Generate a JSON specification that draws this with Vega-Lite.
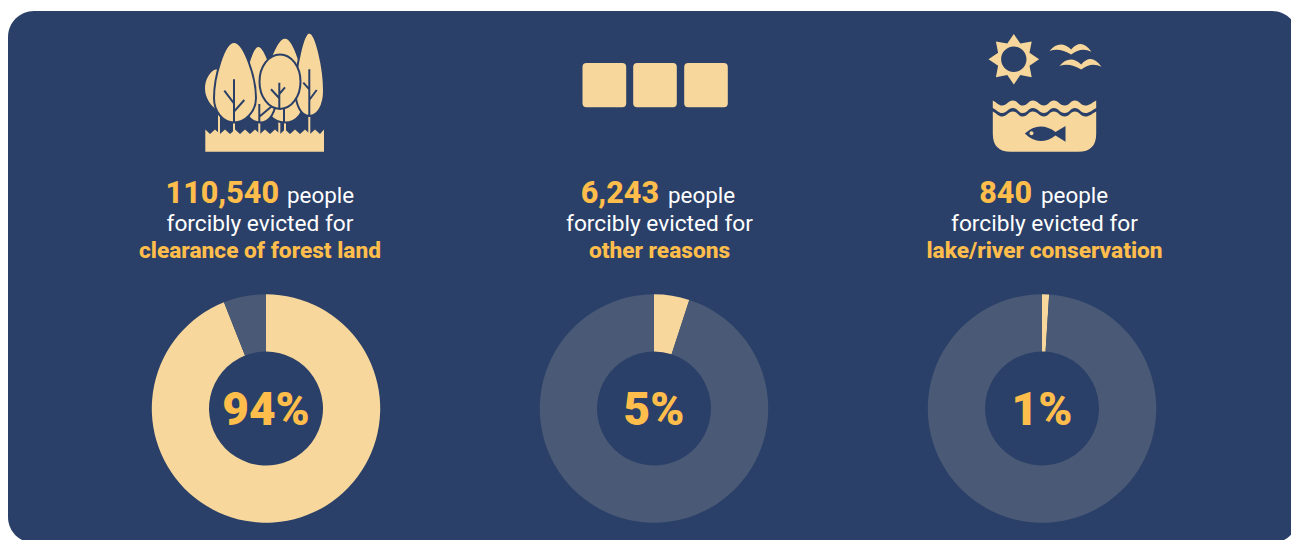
{
  "$schema": "https://vega.github.io/schema/vega-lite/v6.json",
  "width": 1290,
  "height": 532,
  "autosize": "none",
  "padding": {"left": 8, "top": 11, "right": 0, "bottom": 0},
  "background": "#ffffff",
  "view": {"fill": "#2B4068", "stroke": null, "cornerRadius": 26},
  "datasets": {
    "shares": [
      {"cause": "forest", "segment": "share", "value": 0.94},
      {"cause": "forest", "segment": "rest", "value": 0.06},
      {"cause": "other", "segment": "share", "value": 0.05},
      {"cause": "other", "segment": "rest", "value": 0.95},
      {"cause": "lake", "segment": "share", "value": 0.01},
      {"cause": "lake", "segment": "rest", "value": 0.99}
    ],
    "captions": [
      {"cause": "forest", "section": "caption", "count": "110,540", "unit": "people", "lead": "forcibly evicted for", "reason": "clearance of forest land"},
      {"cause": "other", "section": "caption", "count": "6,243", "unit": "people", "lead": "forcibly evicted for", "reason": "other reasons"},
      {"cause": "lake", "section": "caption", "count": "840", "unit": "people", "lead": "forcibly evicted for", "reason": "lake/river conservation"}
    ],
    "icons": [
      {"cause": "forest", "section": "icon", "part": "stems"},
      {"cause": "forest", "section": "icon", "part": "ground"},
      {"cause": "forest", "section": "icon", "part": "tree-back-left"},
      {"cause": "forest", "section": "icon", "part": "tree-back-right"},
      {"cause": "forest", "section": "icon", "part": "tree-middle"},
      {"cause": "forest", "section": "icon", "part": "tree-left"},
      {"cause": "forest", "section": "icon", "part": "tree-right"},
      {"cause": "forest", "section": "icon", "part": "tree-round"},
      {"cause": "other", "section": "icon", "part": "squares"},
      {"cause": "lake", "section": "icon", "part": "sun"},
      {"cause": "lake", "section": "icon", "part": "birds"},
      {"cause": "lake", "section": "icon", "part": "wave"},
      {"cause": "lake", "section": "icon", "part": "water"}
    ]
  },
  "encoding": {
    "x": {
      "field": "cause",
      "type": "nominal",
      "axis": null,
      "scale": {"type": "point", "domain": ["forest", "other", "lake"], "range": [258, 1034], "padding": 0}
    },
    "y": {
      "field": "section",
      "type": "nominal",
      "axis": null,
      "scale": {"type": "point", "domain": ["icon", "caption", "donut"], "range": [81, 397.5], "padding": 0}
    }
  },
  "layer": [
    {
      "data": {"name": "icons"},
      "mark": {"type": "point", "filled": true, "opacity": 1, "size": 4, "strokeWidth": 2},
      "encoding": {
        "shape": {
          "field": "part",
          "type": "nominal",
          "legend": null,
          "scale": {
            "domain": ["stems", "ground", "tree-back-left", "tree-back-right", "tree-middle", "tree-left", "tree-right", "tree-round", "squares", "sun", "birds", "wave", "water"],
            "range": [
              "M-48 20H-46V42H-48Z M-33 25H-31V42H-33Z M-7.7 25H-5.7V42H-7.7Z M12.3 10H14.3V42H12.3Z M18 10H20V42H18Z M42.3 20H44.3V42H42.3Z",
              "M-60.7 37.5L-56 42L-51 37.5L-46 42L-41 37.5L-36 42L-31 37.5L-26 42L-21 37.5L-16 42L-11 37.5L-6 42L-1 37.5L4 42L9 37.5L14 42L19 37.5L24 42L29 37.5L34 42L39 37.5L44 42L49 37.5L54 42L58 37.5L58 59.7L-60.7 59.7Z",
              "M-49.3 -23.7C-56 -23 -62 -13 -62 -3.7C-62 6 -56 15 -49.3 18.7C-42 15 -39 6 -39 -3.7C-39 -13 -42 -23 -49.3 -23.7Z",
              "M19 -54.5C10 -54 -3 -20 -3 4C-3 20 7 30.5 19 30.5C31 30.5 39 20 39 4C39 -20 28 -54 19 -54.5Z M18 14L18 30.5",
              "M-7.7 -46C-14 -46 -23 -15 -23 6C-23 20 -16 30.5 -6 30.5C4 30.5 10 20 10 6C10 -15 -1 -46 -7.7 -46Z M-6.7 12L-6.7 30.5 M7.3 13L-6.7 24.7",
              "M-32 -50C-42 -50 -52 -15 -52 6C-52 20 -43 30.5 -32 30.5C-21 30.5 -10 20 -10 6C-10 -15 -22 -50 -32 -50Z M-32 -12.7L-32 30.5 M-41.7 -1.3L-32 11.3 M-21.7 8L-32 19.7",
              "M43.3 -59.5C37 -59 29.5 -25 29.5 -1C29.5 13 35 24 43.3 24C52 24 58 13 58 -1C58 -25 50 -59 43.3 -59.5Z M43.3 -22.7L43.3 24 M37.3 -9.3L43.3 -2.7 M50.7 -2L43.3 8",
              "M-6.5 -10.3A20.5 27.2 0 0 1 34.5 -10.3A20.5 27.2 0 0 1 -6.5 -10.3Z M13.3 -9.3L13.3 17 M5 -2.7L13.3 6.3 M19 -4.7L13.3 2",
              "M-67.5 -29H-31.8Q-27.8 -29 -27.8 -25V11.3Q-27.8 15.3 -31.8 15.3H-67.5Q-71.5 15.3 -71.5 11.3V-25Q-71.5 -29 -67.5 -29Z M-16.8 -29H18.8Q22.8 -29 22.8 -25V11.3Q22.8 15.3 18.8 15.3H-16.8Q-20.8 15.3 -20.8 11.3V-25Q-20.8 -29 -16.8 -29Z M34.2 -29H69.8Q73.8 -29 73.8 -25V11.3Q73.8 15.3 69.8 15.3H34.2Q30.2 15.3 30.2 11.3V-25Q30.2 -29 34.2 -29Z",
              "M-28.2 -58L-21.7 -48.4L-10.3 -50.6L-12.5 -39.2L-2.9 -32.7L-12.5 -26.2L-10.3 -14.8L-21.7 -17L-28.2 -7.4L-34.7 -17L-46.1 -14.8L-43.9 -26.2L-53.5 -32.7L-43.9 -39.2L-46.1 -50.6L-34.7 -48.4Z M-40.9 -32.7A12.7 12.7 0 0 0 -15.5 -32.7A12.7 12.7 0 0 0 -40.9 -32.7Z",
              "M7.5 -41Q17.8 -53 29.2 -42.5Q39.2 -54.5 49.5 -40.3Q39.2 -45.5 29.2 -37.5Q17.8 -44.5 7.5 -41Z M17.5 -26Q27.8 -38 39.2 -27.5Q49.2 -39.5 59.5 -25.3Q49.2 -30.5 39.2 -22.5Q27.8 -29.5 17.5 -26Z",
              "M-49.2 8.5C-44.5 11 -43.5 13.5 -39.8 13.5C-35.5 13.5 -33.5 8.5 -29.2 8.5C-24.5 8.5 -23.5 13.5 -19.2 13.5C-14.5 13.5 -13.5 8.5 -9.2 8.5C-4.5 8.5 -2.5 13.5 1.8 13.5C6.5 13.5 7.5 8.5 11.8 8.5C16.5 8.5 17.5 13.5 22.8 13.5C27.5 13.5 28.5 8.5 32.8 8.5C37.5 8.5 38.5 13.5 43.5 13.5C47.5 13.5 49.5 11 54.2 8.5L54.2 16C49.5 18.5 47.5 21 43.5 21C38.5 21 37.5 16 32.8 16C28.5 16 27.5 21 22.8 21C17.5 21 16.5 16 11.8 16C7.5 16 6.5 21 1.8 21C-2.5 21 -4.5 16 -9.2 16C-13.5 16 -14.5 21 -19.2 21C-23.5 21 -24.5 16 -29.2 16C-33.5 16 -35.5 21 -39.8 21C-43.5 21 -44.5 18.5 -49.2 16Z",
              "M-49.2 19.5C-44.5 22 -43.5 24.5 -39.8 24.5C-35.5 24.5 -33.5 19.5 -29.2 19.5C-24.5 19.5 -23.5 24.5 -19.2 24.5C-14.5 24.5 -13.5 19.5 -9.2 19.5C-4.5 19.5 -2.5 24.5 1.8 24.5C6.5 24.5 7.5 19.5 11.8 19.5C16.5 19.5 17.5 24.5 22.8 24.5C27.5 24.5 28.5 19.5 32.8 19.5C37.5 19.5 38.5 24.5 43.5 24.5C47.5 24.5 49.5 22 54.2 19.5L54.2 41.7Q54.2 59.7 36.2 59.7L-31.2 59.7Q-49.2 59.7 -49.2 41.7Z M-17.2 41.5Q-9.5 49 -1.5 49Q6.5 49 13.5 43.5L23.5 49.7L23.5 34L13.5 40Q6.5 34.5 -1.5 34.5Q-9.5 34.5 -17.2 41.5Z M-12.5 41.3A2 2 0 0 1 -8.5 41.3A2 2 0 0 1 -12.5 41.3Z"
            ]
          }
        },
        "fill": {"value": "#F7D79B"},
        "stroke": {
          "condition": {"test": "indexof(datum.part, 'tree') === 0", "value": "#2B4068"},
          "value": "transparent"
        }
      }
    },
    {
      "data": {"name": "captions"},
      "transform": [{"filter": "datum.cause === 'forest'"}],
      "layer": [
        {
          "mark": {"type": "text", "font": "Roboto", "fontSize": 30.5, "fontWeight": 800, "color": "#FFBE4C", "baseline": "alphabetic", "align": "right", "dx": 13, "dy": -47},
          "encoding": {"text": {"field": "count"}}
        },
        {
          "mark": {"type": "text", "font": "Roboto", "fontSize": 22.4, "fontWeight": 400, "color": "#ffffff", "baseline": "alphabetic", "align": "left", "dx": 21, "dy": -47},
          "encoding": {"text": {"field": "unit"}}
        },
        {
          "mark": {"type": "text", "font": "Roboto", "fontSize": 22.7, "fontWeight": 400, "color": "#ffffff", "baseline": "alphabetic", "dx": -6, "dy": -19},
          "encoding": {"text": {"field": "lead"}}
        },
        {
          "mark": {"type": "text", "font": "Roboto", "fontSize": 22.7, "fontWeight": 800, "color": "#FFBE4C", "baseline": "alphabetic", "dx": -6, "dy": 8},
          "encoding": {"text": {"field": "reason"}}
        }
      ]
    },
    {
      "data": {"name": "captions"},
      "transform": [{"filter": "datum.cause === 'other'"}],
      "layer": [
        {
          "mark": {"type": "text", "font": "Roboto", "fontSize": 30.5, "fontWeight": 800, "color": "#FFBE4C", "baseline": "alphabetic", "align": "right", "dx": 5, "dy": -47},
          "encoding": {"text": {"field": "count"}}
        },
        {
          "mark": {"type": "text", "font": "Roboto", "fontSize": 22.4, "fontWeight": 400, "color": "#ffffff", "baseline": "alphabetic", "align": "left", "dx": 14, "dy": -47},
          "encoding": {"text": {"field": "unit"}}
        },
        {
          "mark": {"type": "text", "font": "Roboto", "fontSize": 22.7, "fontWeight": 400, "color": "#ffffff", "baseline": "alphabetic", "dx": 5.5, "dy": -19},
          "encoding": {"text": {"field": "lead"}}
        },
        {
          "mark": {"type": "text", "font": "Roboto", "fontSize": 22.7, "fontWeight": 800, "color": "#FFBE4C", "baseline": "alphabetic", "dx": 5.5, "dy": 8},
          "encoding": {"text": {"field": "reason"}}
        }
      ]
    },
    {
      "data": {"name": "captions"},
      "transform": [{"filter": "datum.cause === 'lake'"}],
      "layer": [
        {
          "mark": {"type": "text", "font": "Roboto", "fontSize": 30.5, "fontWeight": 800, "color": "#FFBE4C", "baseline": "alphabetic", "align": "right", "dx": -10, "dy": -47},
          "encoding": {"text": {"field": "count"}}
        },
        {
          "mark": {"type": "text", "font": "Roboto", "fontSize": 22.4, "fontWeight": 400, "color": "#ffffff", "baseline": "alphabetic", "align": "left", "dx": -1, "dy": -47},
          "encoding": {"text": {"field": "unit"}}
        },
        {
          "mark": {"type": "text", "font": "Roboto", "fontSize": 22.7, "fontWeight": 400, "color": "#ffffff", "baseline": "alphabetic", "dx": 2.5, "dy": -19},
          "encoding": {"text": {"field": "lead"}}
        },
        {
          "mark": {"type": "text", "font": "Roboto", "fontSize": 22.7, "fontWeight": 800, "color": "#FFBE4C", "baseline": "alphabetic", "dx": 2.5, "dy": 8},
          "encoding": {"text": {"field": "reason"}}
        }
      ]
    },
    {
      "data": {"name": "shares"},
      "transform": [
        {"calculate": "'donut'", "as": "section"},
        {"stack": "value", "groupby": ["cause"], "sort": [{"field": "segment", "order": "descending"}], "as": ["start", "end"]}
      ],
      "mark": {"type": "arc", "innerRadius": 57, "outerRadius": 114.2},
      "encoding": {
        "theta": {"field": "start", "type": "quantitative", "stack": null, "scale": {"domain": [0, 1], "range": [0, 6.283185307]}},
        "theta2": {"field": "end"},
        "color": {
          "field": "segment",
          "type": "nominal",
          "legend": null,
          "scale": {"domain": ["share", "rest"], "range": ["#F7D79B", "#4A5A76"]}
        }
      }
    },
    {
      "data": {"name": "shares"},
      "transform": [
        {"filter": "datum.segment === 'share'"},
        {"calculate": "'donut'", "as": "section"}
      ],
      "mark": {"type": "text", "font": "Roboto", "fontSize": 46, "fontWeight": 900, "color": "#FFBE4C", "baseline": "middle", "dy": 2},
      "encoding": {"text": {"field": "value", "type": "quantitative", "format": ".0%"}}
    }
  ]
}
